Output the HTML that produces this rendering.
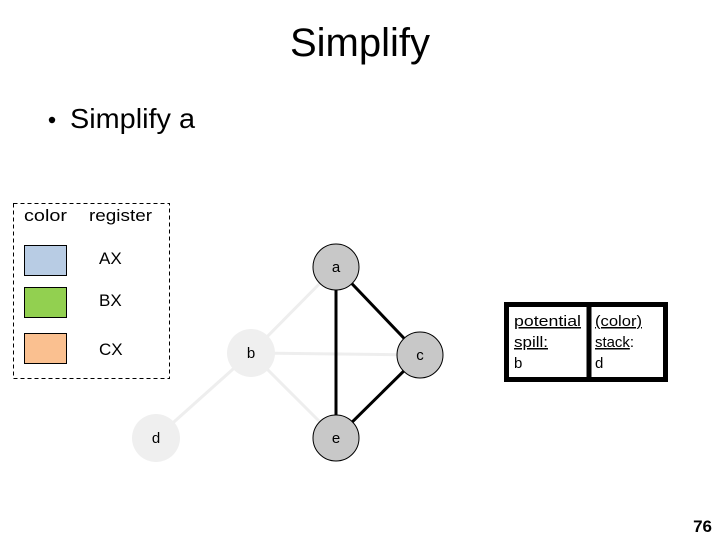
<!DOCTYPE html>
<html><head><meta charset="utf-8">
<style>
html,body{margin:0;padding:0;background:#fff;}
svg{display:block;}
text{font-family:"Liberation Sans",sans-serif;}
</style></head>
<body>
<svg width="720" height="540" viewBox="0 0 720 540" xmlns="http://www.w3.org/2000/svg">
<rect width="720" height="540" fill="#fff"/>
<text x="290" y="56" font-size="40" textLength="140" lengthAdjust="spacingAndGlyphs" fill="#000">Simplify</text>
<circle cx="52" cy="120" r="3.2" fill="#000"/>
<text x="70" y="128" font-size="28" textLength="125" lengthAdjust="spacingAndGlyphs" fill="#000">Simplify a</text>

<rect x="13.5" y="203.5" width="156" height="175" fill="none" stroke="#000" stroke-dasharray="4,3" stroke-width="1"/>
<text x="24" y="221" font-size="17" textLength="43" lengthAdjust="spacingAndGlyphs">color</text>
<text x="89" y="221" font-size="17" textLength="63" lengthAdjust="spacingAndGlyphs">register</text>
<rect x="24.5" y="245.5" width="42" height="30" fill="#b8cce4" stroke="#000"/>
<rect x="24.5" y="287.5" width="42" height="30" fill="#92d050" stroke="#000"/>
<rect x="24.5" y="333.5" width="42" height="30" fill="#fac090" stroke="#000"/>
<text x="99" y="264" font-size="17">AX</text>
<text x="99" y="306" font-size="17">BX</text>
<text x="99" y="355" font-size="17">CX</text>

<g stroke="#eeeeee" stroke-width="3">
<line x1="251" y1="353" x2="336" y2="267"/>
<line x1="251" y1="353" x2="420" y2="355"/>
<line x1="251" y1="353" x2="336" y2="438"/>
<line x1="251" y1="353" x2="156" y2="438"/>
</g>
<g stroke="#000" stroke-width="3">
<line x1="336" y1="267" x2="336" y2="438"/>
<line x1="336" y1="267" x2="420" y2="355"/>
<line x1="420" y1="355" x2="336" y2="438"/>
</g>
<circle cx="251" cy="353" r="24" fill="#efefef"/>
<circle cx="156" cy="438" r="24" fill="#efefef"/>
<circle cx="336" cy="267" r="23" fill="#c8c8c8" stroke="#000" stroke-width="1"/>
<circle cx="420" cy="355" r="23" fill="#c8c8c8" stroke="#000" stroke-width="1"/>
<circle cx="336" cy="438" r="23" fill="#c8c8c8" stroke="#000" stroke-width="1"/>
<g font-size="15" text-anchor="middle" fill="#000">
<text x="336" y="272">a</text>
<text x="251" y="358">b</text>
<text x="420" y="360">c</text>
<text x="156" y="443">d</text>
<text x="336" y="443">e</text>
</g>

<rect x="506.5" y="304.5" width="159" height="75" fill="#fff" stroke="#000" stroke-width="5"/>
<line x1="589" y1="304" x2="589" y2="380" stroke="#000" stroke-width="5"/>
<g font-size="15" fill="#000">
<text x="514" y="326" text-decoration="underline" textLength="67" lengthAdjust="spacingAndGlyphs">potential</text>
<text x="514" y="347" text-decoration="underline" textLength="34" lengthAdjust="spacingAndGlyphs">spill:</text>
<text x="514" y="368">b</text>
<text x="595" y="326" text-decoration="underline" textLength="47" lengthAdjust="spacingAndGlyphs">(color)</text>
<text x="595" y="347" textLength="39" lengthAdjust="spacingAndGlyphs"><tspan text-decoration="underline">stack</tspan>:</text>
<text x="595" y="368">d</text>
</g>

<text x="712" y="532" font-size="17" font-weight="bold" text-anchor="end">76</text>
</svg>
</body></html>
